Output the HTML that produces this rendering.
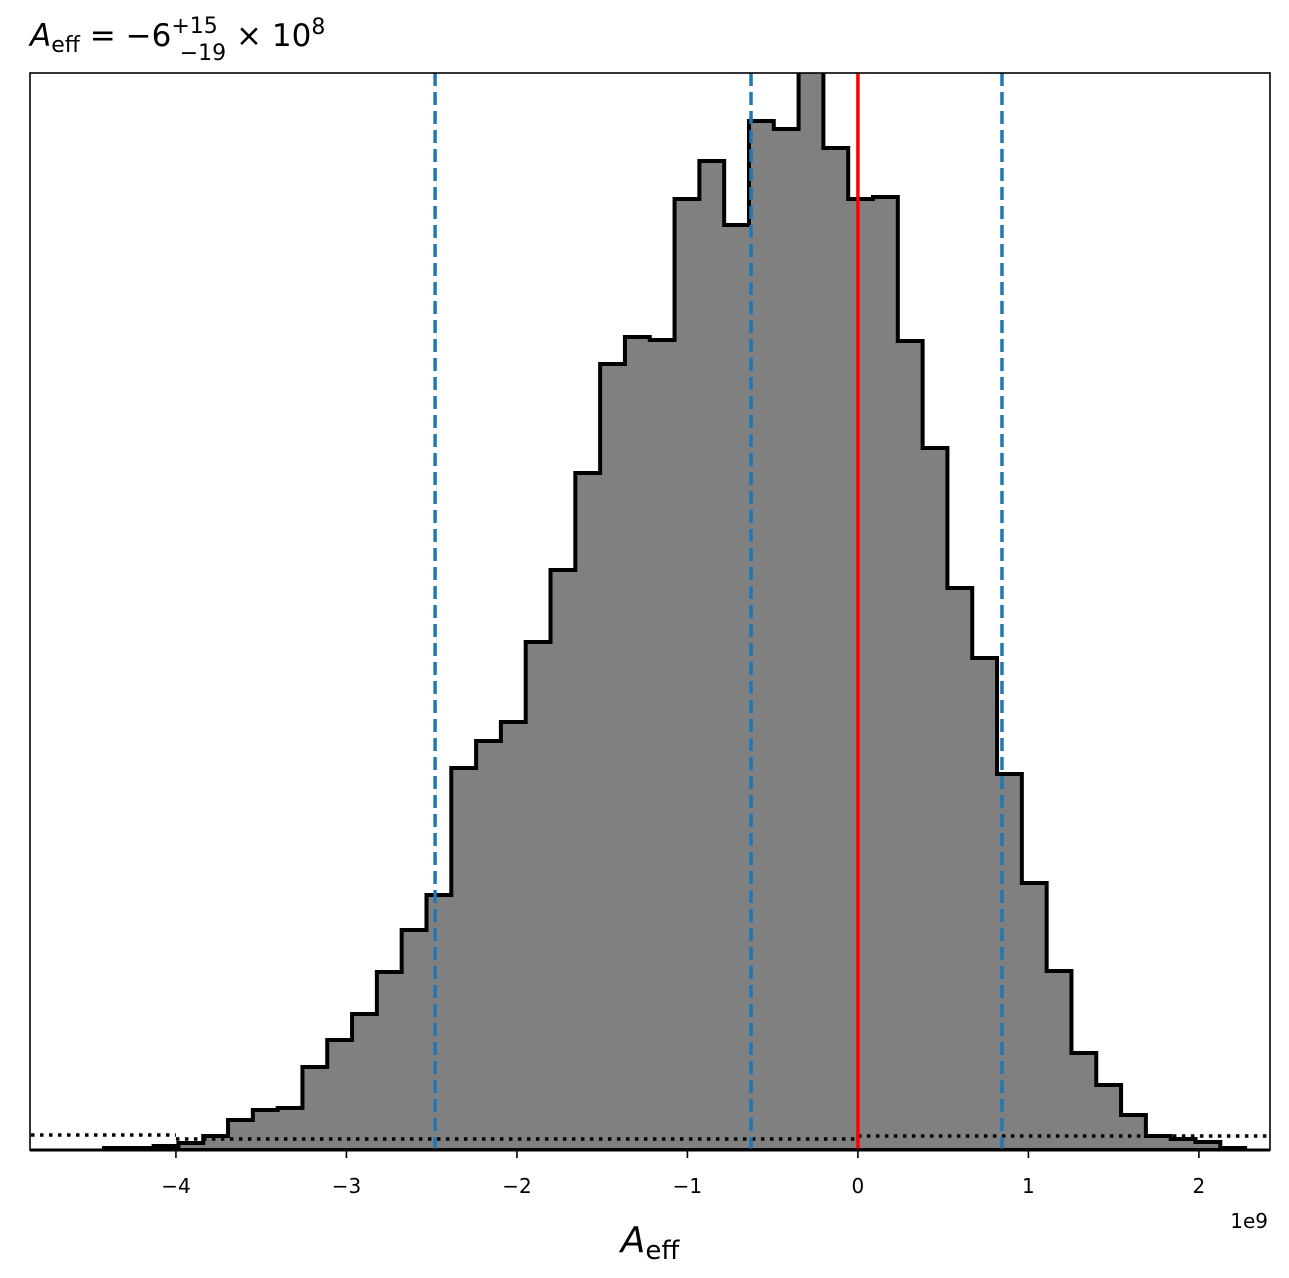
<!DOCTYPE html>
<html><head><meta charset="utf-8"><style>
body{margin:0;background:#fff;}
svg{display:block;font-family:"DejaVu Sans","Liberation Sans",sans-serif;}
</style></head><body>
<svg id="chart" width="1289" height="1278">
<text x="30" y="46" font-size="31"><tspan font-style="italic">A</tspan><tspan font-size="22" dy="6">eff</tspan><tspan dy="-6"> = −6</tspan><tspan font-size="22" dy="-13">+15</tspan><tspan font-size="22" dx="-38" dy="27">−19</tspan><tspan dy="-14"> × 10</tspan><tspan font-size="22" dy="-12">8</tspan></text>
<g id="plot"></g>
<text x="650" y="1252" font-size="36" text-anchor="middle"><tspan font-style="italic">A</tspan><tspan font-size="26" dy="7">eff</tspan></text>
<text x="1268" y="1228" font-size="20" text-anchor="end">1e9</text>
</svg>
<script>
const binStart = -4.422;
const binWidth = 0.1455;
const counts = [2,2,4,7,14,30,40,42,83,110,136,178,220,255,382,409,428,508,580,677,786,813,810,951,989,925,1029,1021,1080,1002,951,953,809,702,562,492,376,267,179,97,65,35,14,11,8,2];
const xTicks = [-4,-3,-2,-1,0,1,2];
const xTickLabels = ["−4","−3","−2","−1","0","1","2"];
const quantiles = [-2.48,-0.627,0.845];
const truthValue = 0;
const priorLevels = [15,11,14];
const priorBreaks = [-4.85,-4,0,2.43];

const L=30,R=1270,T=73,B=1150;
const xMin=-4.856,xMax=2.417,yMax=1077;
const X=v=>L+(v-xMin)/(xMax-xMin)*(R-L);
const Y=v=>B-v/yMax*(B-T);
const NS="http://www.w3.org/2000/svg";
const g=document.getElementById('plot');
function mk(t,a){const e=document.createElementNS(NS,t);for(const k in a)e.setAttribute(k,a[k]);return e;}
const defs=mk('defs',{});const cp=mk('clipPath',{id:'c'});cp.appendChild(mk('rect',{x:L,y:T,width:R-L,height:B-T}));defs.appendChild(cp);g.appendChild(defs);
const inner=mk('g',{'clip-path':'url(#c)'});g.appendChild(inner);
let d='M'+X(binStart)+','+Y(0);
counts.forEach((c,i)=>{const x0=X(binStart+i*binWidth),x1=X(binStart+(i+1)*binWidth);d+=' L'+x0+','+Y(c)+' L'+x1+','+Y(c);});
d+=' L'+X(binStart+counts.length*binWidth)+','+Y(0)+' Z';
const fill=mk('path',{d:d,fill:'#808080',stroke:'none'});


inner.appendChild(fill);
const out=mk('path',{d:d,fill:'none',stroke:'#000','stroke-width':4,'stroke-linejoin':'miter'});


inner.appendChild(out);
let pd='';
for(let i=0;i<priorLevels.length;i++){pd+='M'+X(priorBreaks[i])+','+Y(priorLevels[i])+' L'+X(priorBreaks[i+1])+','+Y(priorLevels[i])+' ';}
const prior=mk('path',{d:pd,fill:'none',stroke:'#000','stroke-width':3.5,'stroke-dasharray':'3.5,5.5'});


inner.appendChild(prior);
quantiles.forEach((q,i)=>{const l=mk('line',{x1:X(q),x2:X(q),y1:T,y2:B,stroke:'#1f77b4','stroke-width':3.5,'stroke-dasharray':'13,6'});


inner.appendChild(l);});
const red=mk('line',{x1:X(truthValue),x2:X(truthValue),y1:T,y2:B,stroke:'#ff0000','stroke-width':3.5});


inner.appendChild(red);
const frame=mk('rect',{x:L,y:T,width:R-L,height:B-T,fill:'none',stroke:'#000','stroke-width':1.6});


g.appendChild(frame);
const ax=mk('line',{x1:L,x2:R,y1:B,y2:B,stroke:'#000','stroke-width':3});


g.appendChild(ax);
xTicks.forEach((t,i)=>{const tk=mk('line',{x1:X(t),x2:X(t),y1:B,y2:B+8,stroke:'#000','stroke-width':1.6});


g.appendChild(tk);
const tx=mk('text',{x:X(t),y:B+43,'font-size':20,'text-anchor':'middle'});tx.textContent=xTickLabels[i];


g.appendChild(tx);});
</script>
</body></html>
